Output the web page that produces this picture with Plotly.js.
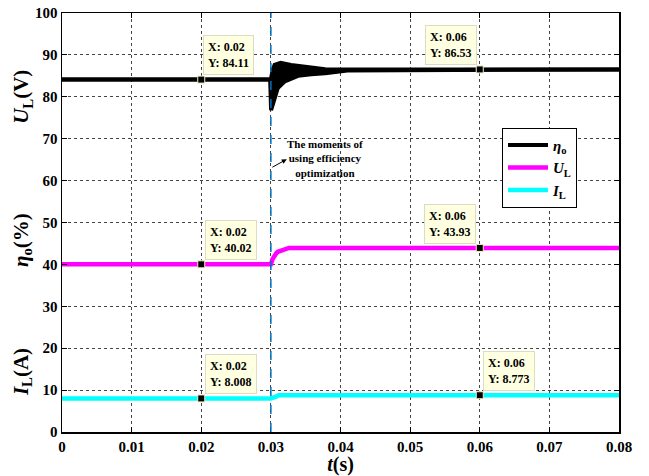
<!DOCTYPE html>
<html>
<head>
<meta charset="utf-8">
<script src="https://cdn.plot.ly/plotly-3.0.1.min.js"></script>
<style>html,body{margin:0;padding:0;background:#fff;}#chart{width:649px;height:476px;}</style>
</head>
<body>
<div id="chart"></div>
<script>
// ---- data ----
const etaUpperT = [0, 0.0299, 0.03005, 0.03025, 0.03053, 0.0314, 0.0329, 0.0353, 0.0378, 0.041, 0.08];
const etaUpper  = [84.11, 84.11, 84.6, 86.4, 87.6, 88.1, 87.6, 87.0, 86.6, 86.53, 86.53];
const etaLowerT = [0, 0.0299, 0.03003, 0.03053, 0.0310, 0.0320, 0.0339, 0.0358, 0.0378, 0.041, 0.08];
const etaLower  = [84.11, 84.11, 76.8, 80.0, 82.1, 83.7, 85.0, 85.4, 85.6, 86.3, 86.53];
const uT = [0, 0.0300, 0.03025, 0.03053, 0.0308, 0.0310, 0.0315, 0.0320, 0.0326, 0.08];
const uV = [40.02, 40.02, 41.3, 42.2, 42.7, 43.0, 43.35, 43.6, 43.93, 43.93];
const iT = [0, 0.0300, 0.0308, 0.0311, 0.08];
const iV = [8.008, 8.008, 8.5, 8.773, 8.773];
const tipX = [0.02, 0.06, 0.02, 0.06, 0.02, 0.06];
const tipY = [84.11, 86.53, 40.02, 43.93, 8.008, 8.773];
const tipXLabels = ["0.02", "0.06", "0.02", "0.06", "0.02", "0.06"];
const tipYLabels = ["84.11", "86.53", "40.02", "43.93", "8.008", "8.773"];
const momentT = 0.03;
const xTicks = [0, 0.01, 0.02, 0.03, 0.04, 0.05, 0.06, 0.07, 0.08];
const xTickLabels = ["0", "0.01", "0.02", "0.03", "0.04", "0.05", "0.06", "0.07", "0.08"];
const yTicks = [0, 10, 20, 30, 40, 50, 60, 70, 80, 90, 100];
const yTickLabels = ["0", "10", "20", "30", "40", "50", "60", "70", "80", "90", "100"];
const seriesNames = ["<i>η</i><sub>o</sub>", "<i>U</i><sub>L</sub>", "<i>I</i><sub>L</sub>"];
const yTitles = ["<i>U</i><sub>L</sub>(V)", "<i>η</i><sub>o</sub>(%)", "<i>I</i><sub>L</sub>(A)"];
const yTitlePos = [80, 45.8, 14.3];
const noteText = "The moments of<br>using efficiency<br>optimization";
const notePos = [0.0378, 65.2];
const arrowHead = [0.03228, 65.1];
const arrowTail = [0.0300, 63.0];

// ---- styles ----
const FONT = "Liberation Serif";
const b = s => '<b>' + s + '</b>';
const tipPlacement = [
  {xanchor: 'left', xshift: 2, yshift: 5},
  {xanchor: 'right', xshift: -3, yshift: 4},
  {xanchor: 'left', xshift: 4, yshift: 4},
  {xanchor: 'right', xshift: -4, yshift: 4},
  {xanchor: 'left', xshift: 4, yshift: 4},
  {xanchor: 'left', xshift: 3, yshift: 4}
];

const traces = [
  {x: etaLowerT, y: etaLower, mode: 'lines', line: {color: '#000', width: 4}, name: b(seriesNames[0]), showlegend: true, hoverinfo: 'skip'},
  {x: etaUpperT, y: etaUpper, mode: 'lines', line: {color: '#000', width: 4}, fill: 'tonexty', fillcolor: '#000', showlegend: false, hoverinfo: 'skip'},
  {x: uT, y: uV, mode: 'lines', line: {color: '#ff00ff', width: 4.5}, name: b(seriesNames[1]), hoverinfo: 'skip'},
  {x: iT, y: iV, mode: 'lines', line: {color: '#00ffff', width: 4.5}, name: b(seriesNames[2]), hoverinfo: 'skip'},
  {x: tipX, y: tipY, mode: 'markers', marker: {symbol: 'square', size: 7, color: '#000', line: {color: '#f4f0c8', width: 1}}, showlegend: false, hoverinfo: 'skip'}
];

const annotations = [];
for (let k = 0; k < tipX.length; k++) {
  annotations.push(Object.assign({
    x: tipX[k], y: tipY[k], xref: 'x', yref: 'y', yanchor: 'bottom',
    text: b('X: ' + tipXLabels[k] + '<br>Y: ' + tipYLabels[k]),
    showarrow: false, align: 'left',
    bgcolor: '#ffffe1', bordercolor: '#dcdcc0', borderwidth: 1, borderpad: 4,
    font: {family: FONT, size: 12, color: '#000'}
  }, tipPlacement[k]));
}
for (let k = 0; k < yTitles.length; k++) {
  annotations.push({
    x: 0, xref: 'paper', y: yTitlePos[k], yref: 'y', xanchor: 'center', yanchor: 'middle',
    xshift: -40, textangle: -90, showarrow: false, text: b(yTitles[k]),
    font: {family: FONT, size: 21, color: '#000'}
  });
}
annotations.push({
  x: notePos[0], y: notePos[1], xref: 'x', yref: 'y', showarrow: false, text: b(noteText),
  align: 'center', font: {family: FONT, size: 11, color: '#000'}
});
annotations.push({
  x: arrowHead[0], y: arrowHead[1], xref: 'x', yref: 'y', ax: arrowTail[0], ay: arrowTail[1], axref: 'x', ayref: 'y',
  showarrow: true, arrowhead: 2, arrowsize: 1, arrowwidth: 1, arrowcolor: '#000', text: ''
});

const layout = {
  width: 649, height: 476,
  margin: {l: 62, r: 30, t: 13, b: 44},
  paper_bgcolor: '#fff', plot_bgcolor: '#fff',
  font: {family: FONT, color: '#000'},
  xaxis: {
    range: [0, 0.08], tickvals: xTicks, ticktext: xTickLabels.map(b),
    showline: true, linecolor: '#000', linewidth: 1.5, mirror: 'ticks',
    ticks: 'inside', ticklen: 5, tickcolor: '#000',
    showgrid: true, gridcolor: '#444', griddash: 'dot', gridwidth: 1,
    zeroline: false,
    tickfont: {family: FONT, size: 15, color: '#000'},
    title: {text: b('<i>t</i>(s)'), font: {family: FONT, size: 20, color: '#000'}, standoff: 2}
  },
  yaxis: {
    range: [0, 100], tickvals: yTicks, ticktext: yTickLabels.map(b),
    showline: true, linecolor: '#000', linewidth: 1.5, mirror: 'ticks',
    ticks: 'inside', ticklen: 5, tickcolor: '#000',
    showgrid: true, gridcolor: '#444', griddash: 'dot', gridwidth: 1,
    zeroline: false,
    tickfont: {family: FONT, size: 15, color: '#000'}
  },
  shapes: [{
    type: 'line', xref: 'x', yref: 'y', x0: momentT, x1: momentT, y0: 0, y1: 100,
    line: {color: '#0072BD', width: 1.5, dash: 'dash'}
  }],
  legend: {
    x: 0.79, y: 0.726, xanchor: 'left', yanchor: 'top', traceorder: 'normal',
    bgcolor: '#fff', bordercolor: '#000', borderwidth: 1,
    font: {family: FONT, size: 15, color: '#000'},
    itemwidth: 40, tracegroupgap: 0
  },
  annotations: annotations,
  showlegend: true
};

Plotly.newPlot('chart', traces, layout, {displayModeBar: false, staticPlot: true});
</script>
</body>
</html>
